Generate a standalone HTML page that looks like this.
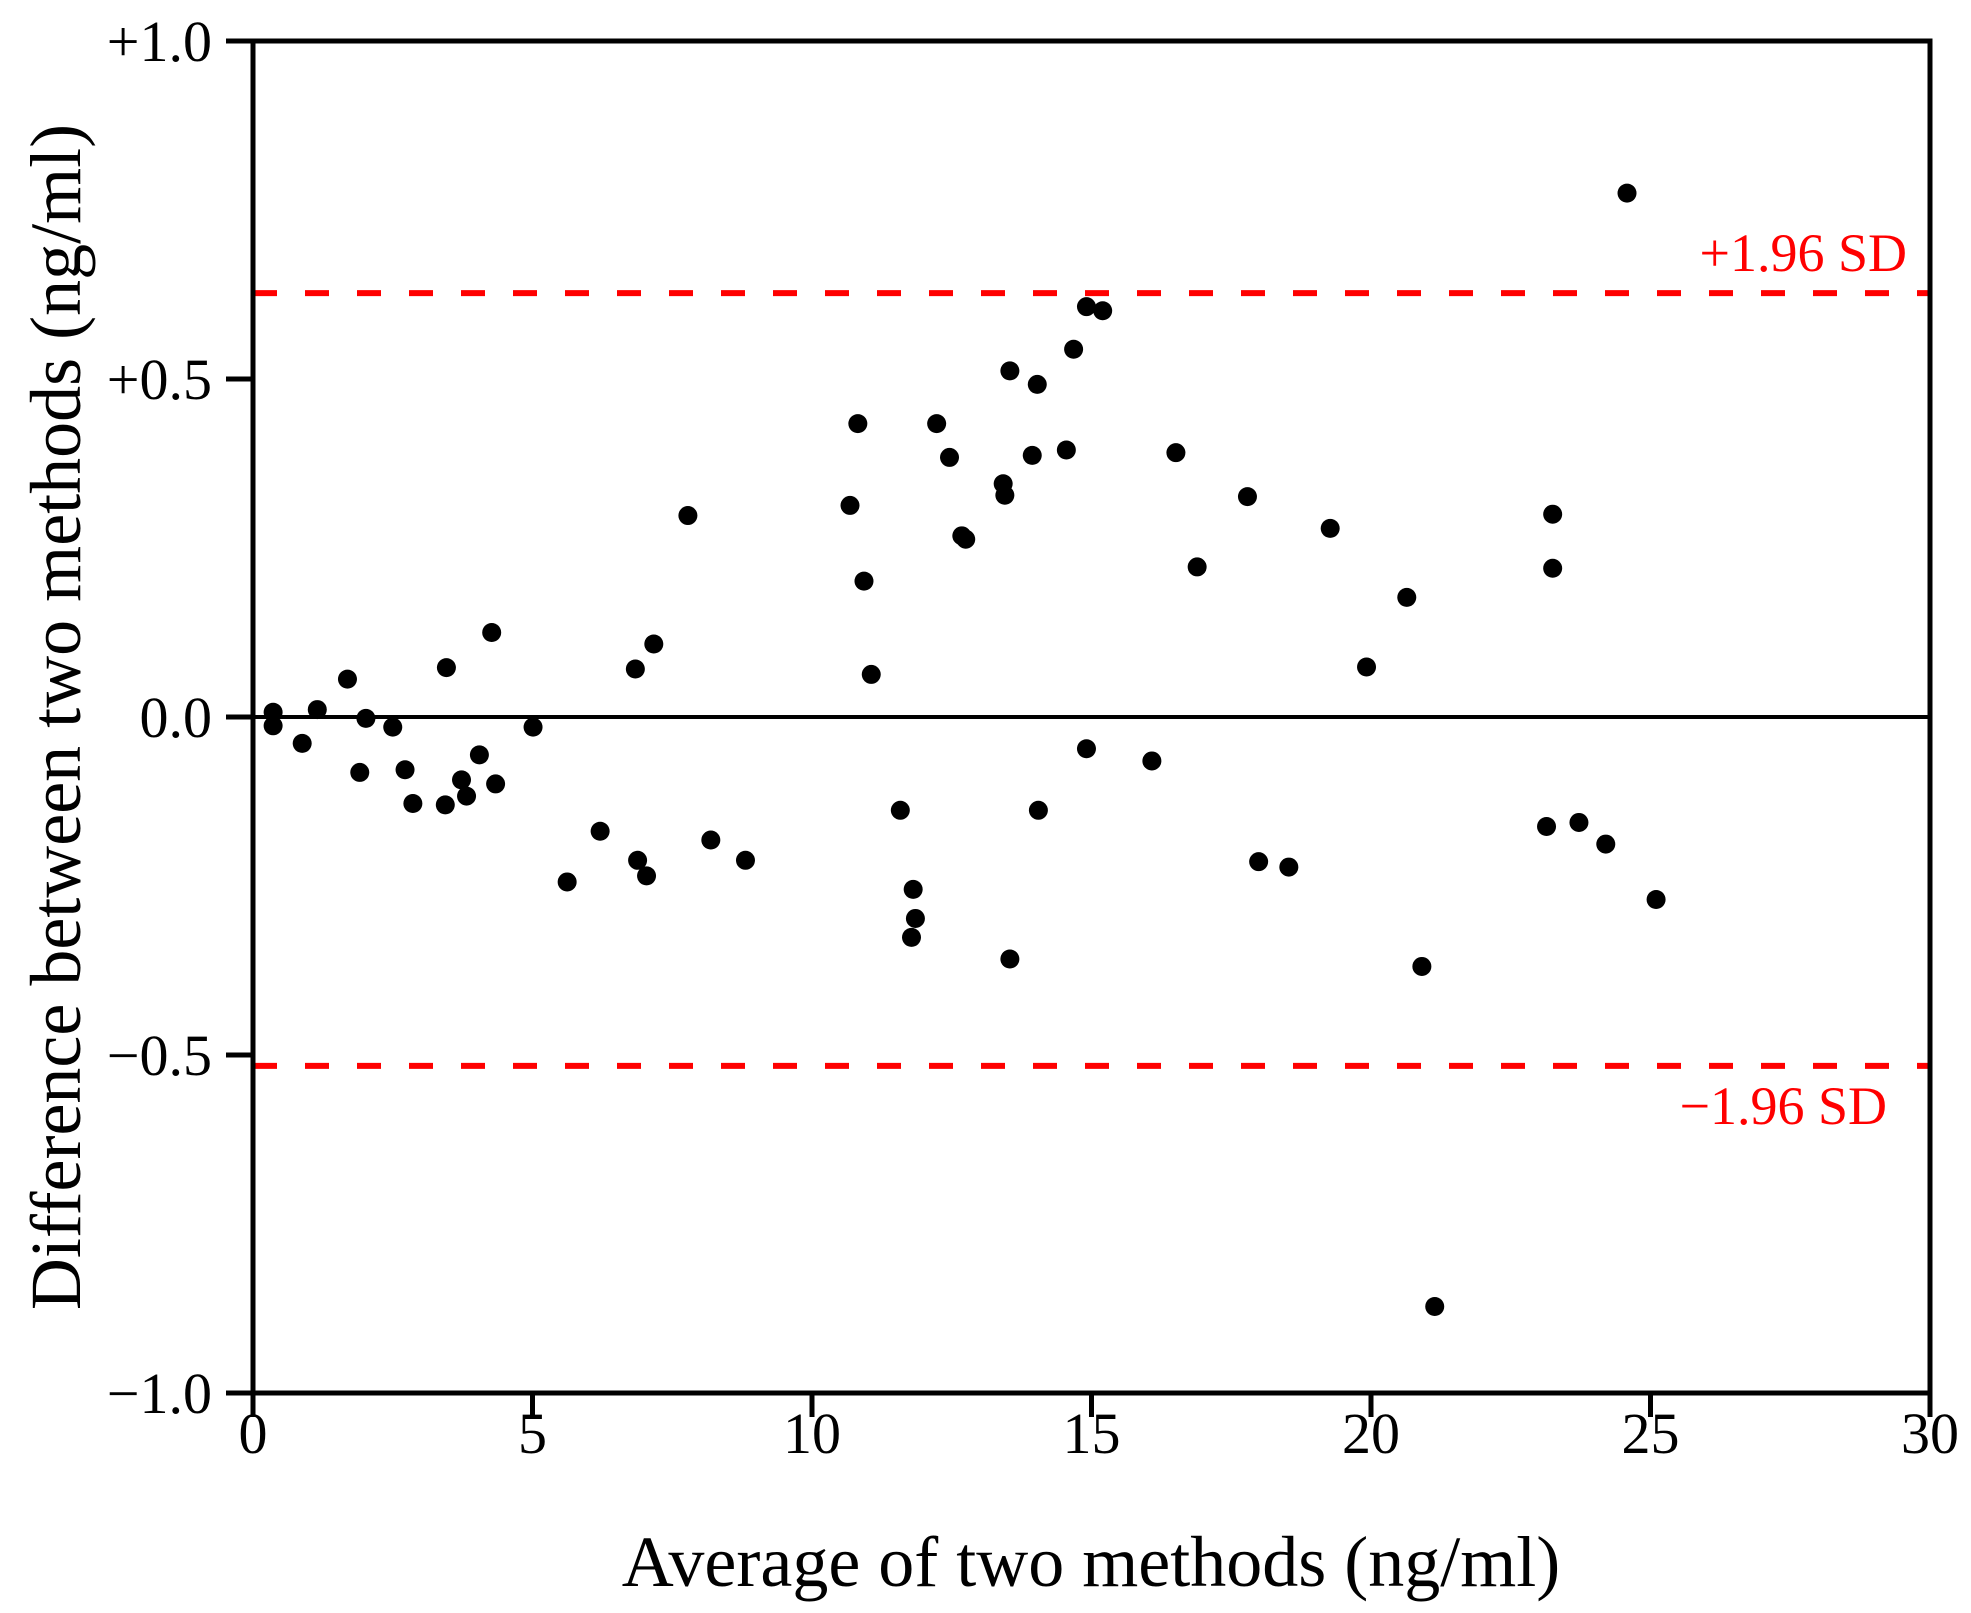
<!DOCTYPE html>
<html><head><meta charset="utf-8"><style>
html,body{margin:0;padding:0;background:#fff;}
svg{display:block;font-family:"Liberation Serif",serif;}
</style></head><body>
<svg id="chart" width="1971" height="1613" viewBox="0 0 1971 1613"></svg>
<script>
const xTicks=[0,5,10,15,20,25,30];
const yTicks=[1,0.5,0,-0.5,-1];
const yTickLabels=["+1.0","+0.5","0.0","\u22120.5","\u22121.0"];
const upperLimit=0.627;
const lowerLimit=-0.516;
const avgValues=[0.36,0.36,0.88,1.15,1.69,1.91,2.02,2.5,2.72,2.86,3.46,3.44,3.73,3.82,4.05,4.27,4.34,5.01,5.62,6.21,6.84,6.88,7.04,7.17,7.78,8.19,8.81,10.68,10.82,10.93,11.06,11.58,11.81,11.85,11.78,12.23,12.46,12.68,12.75,13.42,13.45,13.54,13.54,13.94,14.03,14.05,14.55,14.68,14.91,14.91,15.2,16.08,16.51,16.89,17.79,17.99,18.53,19.27,19.92,20.64,20.91,21.14,23.14,23.25,23.25,23.72,24.2,24.58,25.1];
const diffValues=[0.007,-0.013,-0.039,0.011,0.056,-0.082,-0.002,-0.015,-0.078,-0.128,0.073,-0.130,-0.093,-0.117,-0.056,0.125,-0.099,-0.015,-0.244,-0.169,0.071,-0.212,-0.235,0.108,0.298,-0.182,-0.212,0.313,0.434,0.201,0.063,-0.138,-0.255,-0.298,-0.326,0.434,0.384,0.268,0.263,0.345,0.328,0.512,-0.358,0.387,0.492,-0.138,0.395,0.544,0.607,-0.047,0.601,-0.065,0.391,0.222,0.326,-0.214,-0.222,0.279,0.074,0.177,-0.369,-0.872,-0.162,0.300,0.220,-0.156,-0.188,0.775,-0.270];

const L=253,R=1930,T=41,B=1393;
const xs=v=>L+(v-0)/(30-0)*(R-L);
const ys=v=>T+(1-v)/(2)*(B-T);
const svg=document.getElementById('chart');
const NS='http://www.w3.org/2000/svg';
function mk(tag,attrs,parent){const e=document.createElementNS(NS,tag);for(const k in attrs)e.setAttribute(k,attrs[k]);(parent||svg).appendChild(e);return e;}

let ul=mk('line',{x1:L,x2:R,y1:ys(upperLimit),y2:ys(upperLimit),stroke:'#f00','stroke-width':6,'stroke-dasharray':'24 28'});


let ll=mk('line',{x1:L,x2:R,y1:ys(lowerLimit),y2:ys(lowerLimit),stroke:'#f00','stroke-width':6,'stroke-dasharray':'24 28'});


let zl=mk('line',{x1:L,x2:R,y1:ys(0),y2:ys(0),stroke:'#000','stroke-width':4});



let ut=mk('text',{x:1907,y:ys(upperLimit)-22,'text-anchor':'end','font-size':54,fill:'#f00'});
ut.textContent='+1.96 SD';


let lt=mk('text',{x:1887,y:ys(lowerLimit)+58,'text-anchor':'end','font-size':54,fill:'#f00'});
lt.textContent='\u22121.96 SD';



let fr=mk('rect',{x:L,y:T,width:R-L,height:B-T,fill:'none',stroke:'#000','stroke-width':5});



xTicks.forEach(v=>{
  let t=mk('line',{x1:xs(v),x2:xs(v),y1:B,y2:B+24,stroke:'#000','stroke-width':5});
  
  
  let l=mk('text',{x:xs(v),y:1453,'text-anchor':'middle','font-size':58});
  l.textContent=String(v);
  
  
});
yTicks.forEach((v,i)=>{
  let t=mk('line',{x1:L-27,x2:L,y1:ys(v),y2:ys(v),stroke:'#000','stroke-width':5});
  
  
  let l=mk('text',{x:212,y:ys(v)+20,'text-anchor':'end','font-size':58});
  l.textContent=yTickLabels[i];
  
  
});

avgValues.forEach((a,i)=>{
  let c=mk('circle',{cx:xs(a),cy:ys(diffValues[i]),r:9.5,fill:'#000'});
  
  
});

let xt=mk('text',{x:1091,y:1586,'text-anchor':'middle','font-size':72});
xt.textContent='Average of  two methods (ng/ml)';
xt.setAttribute('xml:space','preserve');


let yt=mk('text',{x:0,y:0,'text-anchor':'middle','font-size':72,transform:'translate(80,717) rotate(-90)'});
yt.textContent='Difference between two methods (ng/ml)';


</script>
</body></html>
